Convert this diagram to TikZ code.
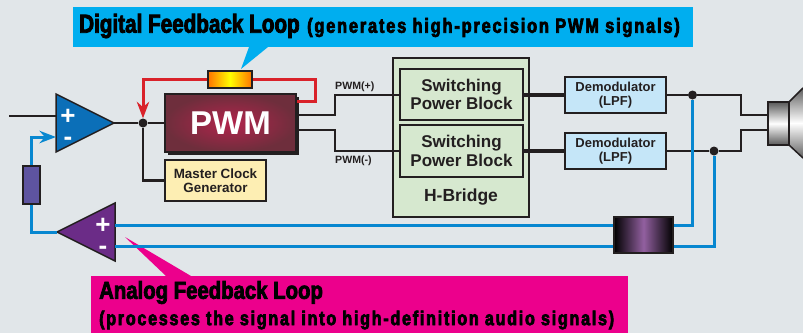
\documentclass[tikz,border=0pt]{standalone}
\usepackage{fontspec}
\setmainfont{Liberation Sans}
\newfontfamily\digitalfont[FakeStretch=.795,FakeBold=3]{Liberation Sans Bold}
\newfontfamily\analogfont[FakeStretch=.83,FakeBold=3]{Liberation Sans Bold}
\newfontfamily\notefont[FakeStretch=.8,FakeBold=3.5,LetterSpace=9]{Liberation Sans Bold}
\usetikzlibrary{arrows.meta}
\definecolor{pagebg}{HTML}{E1E6E9}
\definecolor{linedark}{HTML}{231F20}
\definecolor{loopblue}{HTML}{0787D0}
\definecolor{callblue}{HTML}{00AEEF}
\definecolor{callpink}{HTML}{EC008C}
\definecolor{loopred}{HTML}{D9222A}
\definecolor{bridgegreen}{HTML}{D6E8CF}
\definecolor{clockyellow}{HTML}{FDEEB3}
\definecolor{demodblue}{HTML}{C5E6F8}
\definecolor{pwmcore}{HTML}{B2244C}
\definecolor{pwmedge}{HTML}{6E2E3C}
\definecolor{ampblue}{HTML}{0B6FB8}
\definecolor{amppurple}{HTML}{6B2C87}
\definecolor{partpurple}{HTML}{5E54A0}
\definecolor{chokepurple}{HTML}{9260A0}
\tikzset{
  wire/.style={draw=linedark, line width=2.7pt},
  fatwire/.style={draw=linedark, line width=3.8pt},
  fbwire/.style={draw=loopblue, line width=3pt},
  redwire/.style={draw=loopred, line width=3pt},
  blockbox/.style={draw=linedark, line width=1.5pt, align=center, inner sep=0pt, text=linedark},
  dot/.style={circle, fill=linedark, inner sep=0pt, minimum size=9pt},
  callout/.style={inner sep=0pt, text=black, anchor=west},
  opsign/.style={text=white, align=center, font=\fontsize{26}{21}\selectfont\bfseries, inner sep=0pt},
  pwmtag/.style={font=\fontsize{10.6}{12}\selectfont\bfseries, text=linedark, inner sep=0pt, anchor=west},
  powerbox/.style={blockbox, minimum width=123pt, fill=bridgegreen, font=\fontsize{17}{18.5}\selectfont\bfseries},
  demodbox/.style={blockbox, minimum width=101pt, minimum height=36pt, fill=demodblue, font=\fontsize{13}{14.5}\selectfont\bfseries}
}
\begin{document}
\begin{tikzpicture}[x=1pt, y=-1pt, >=Stealth]
\fill[pagebg] (0,0) rectangle (803,333);
\useasboundingbox (0,0) rectangle (803,333);

% callouts
\fill[callblue] (73,7) rectangle (693,47);
\fill[callblue] (249,47) -- (241,69) -- (268,47) -- cycle;
\node[callout] (digital) at (79,26) {\digitalfont\fontsize{26}{28}\selectfont Digital Feedback Loop};
\node[callout] (digitalnote) at (307,27.5) {\notefont\fontsize{20.4}{22}\selectfont (generates high-precision PWM signals)};
\fill[callpink] (91,276) rectangle (628,333);
\fill[callpink] (166,276) -- (125,237) -- (191,276) -- cycle;
\node[callout] (analog) at (99,292.5) {\analogfont\fontsize{24.5}{26}\selectfont Analog Feedback Loop};
\node[callout] (analognote) at (99,320) {\notefont\fontsize{20}{22}\selectfont (processes the signal into high-definition audio signals)};

% h-bridge
\node[blockbox, minimum width=136pt, minimum height=159pt, fill=bridgegreen] (hbridge) at (461,137.5) {};
\node[font=\fontsize{17.5}{20}\selectfont\bfseries, text=linedark, inner sep=0pt] (hlabel) at (461,197) {H-Bridge};
\node[powerbox, minimum height=51pt] (powerA) at (461.5,94.5) {Switching\\Power Block};
\node[powerbox, minimum height=52pt] (powerB) at (461.5,151) {Switching\\Power Block};

% pwm and clock
\fill[linedark] (168,97) rectangle (299,155);
\node[blockbox, minimum width=131pt, minimum height=58pt, inner color=pwmcore, outer color=pwmedge, text=white, font=\fontsize{33}{35}\selectfont\bfseries] (pwm) at (230.5,123) {PWM};
\node[blockbox, minimum width=101pt, minimum height=41pt, fill=clockyellow, font=\fontsize{13.4}{14.5}\selectfont\bfseries] (clock) at (215.5,180.5) {Master Clock\\Generator};
\node[blockbox, minimum width=44pt, minimum height=17pt, left color=orange!90!red, right color=orange!90!red, middle color=yellow] (trim) at (230,79.5) {};

% demodulators
\node[demodbox] (demodA) at (615.5,95) {Demodulator\\(LPF)};
\node[demodbox] (demodB) at (615.5,151) {Demodulator\\(LPF)};

% amplifiers
\draw[linedark, line width=1.5pt, fill=ampblue] (56,94) -- (114,123) coordinate (ampAout) -- (56,152) -- cycle;
\node[opsign] (ampAsign) at (68,127) {+\\-};
\draw[linedark, line width=1.5pt, fill=amppurple] (115,203) -- (57,232) coordinate (ampBout) -- (115,261) -- cycle;
\node[opsign] (ampBsign) at (103,236) {+\\-};

% small filter parts
\node[draw=linedark, line width=1.5pt, minimum width=17pt, minimum height=38pt, inner sep=0pt, fill=partpurple] (rcomp) at (31.5,185) {};
\node[draw=linedark, line width=1.6pt, minimum width=59pt, minimum height=36pt, inner sep=0pt, left color=black, right color=black, middle color=chokepurple] (choke) at (643.5,235) {};

% speaker
\path[top color=gray!75!black, bottom color=gray!75!black, middle color=white] (789,102) -- (803,88) -- (803,158) -- (789,145) -- cycle;
\draw[linedark, line width=1.5pt] (789,102) -- (803,88) (789,145) -- (803,158);
\node[draw=linedark, line width=1.5pt, minimum width=21pt, minimum height=43pt, inner sep=0pt, top color=gray!70!black, bottom color=gray!70!black, middle color=white] (coil) at (778.5,123.5) {};

% signal path
\coordinate (inA) at (9,116);
\coordinate (ampApin) at (56,116);
\coordinate (ampAmin) at (56,137);
\node[dot] (nodeA) at (143,123) {};
\node[dot] (nodeB) at (692.5,95) {};
\node[dot] (nodeC) at (714,151) {};
\draw[wire] (inA) -- (ampApin);
\draw[wire] (ampAout) -- (nodeA) -- (pwm.west |- nodeA);
\draw[wire] (nodeA) |- (clock.west);
\draw[wire] (297,115) -- (335,115) -- (335,95) -- (powerA.west |- 335,95);
\draw[wire] (297,130) -- (335,130) -- (335,151) -- (powerB.west);
\node[pwmtag] (labP) at (335,86.5) {PWM(+)};
\node[pwmtag] (labM) at (335,160.5) {PWM(-)};
\draw[fatwire] (powerA.east |- demodA) -- (demodA.west);
\draw[fatwire] (powerB.east) -- (demodB.west);
\draw[wire] (demodA.east) -- (nodeB) -- (741,95) -- (741,115) -- (coil.west |- 741,115);
\draw[wire] (demodB.east) -- (nodeC) -- (741,151) -- (741,130) -- (coil.west |- 741,130);

% red loop
\draw[redwire, ->] (trim.west) -- (143,79.5) -- (nodeA.north);
\draw[redwire] (trim.east) -- (315,79.5) -- (315,101) -- (pwm.east |- 315,101);

% blue loop
\draw[fbwire] (nodeB) -- (692.5,225) -- (choke.east |- 692.5,225);
\draw[fbwire] (nodeC) -- (714,246) -- (choke.east |- 714,246);
\draw[fbwire] (choke.west |- 692.5,225) -- (115,225);
\draw[fbwire] (choke.west |- 714,246) -- (115,246);
\draw[fbwire] (ampBout) -- (31.5,232) -- (rcomp.south);
\draw[fbwire, ->] (rcomp.north) |- (ampAmin);
\end{tikzpicture}
\end{document}
